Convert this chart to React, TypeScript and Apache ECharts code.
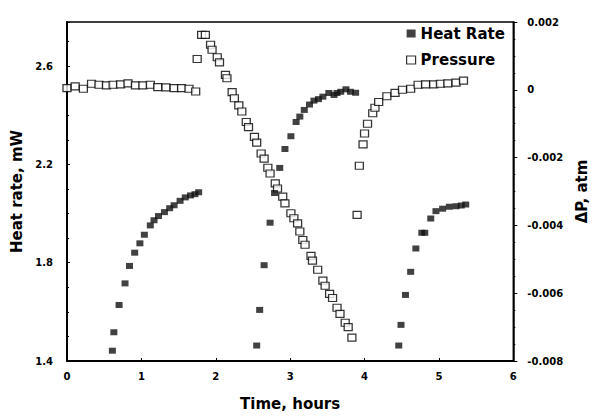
import React, { useEffect, useRef } from 'react';
import * as echarts from 'echarts';

// Heat rate (mW), three heating segments
const hrTime1 = [0.61, 0.63, 0.70, 0.78, 0.84, 0.91, 0.98, 1.04, 1.12, 1.17, 1.23, 1.31, 1.38, 1.44, 1.52, 1.59, 1.66, 1.72, 1.77];
const hrRate1 = [1.442, 1.517, 1.628, 1.716, 1.787, 1.841, 1.879, 1.914, 1.952, 1.973, 1.990, 2.006, 2.022, 2.034, 2.052, 2.066, 2.074, 2.079, 2.087];
const hrTime2 = [2.55, 2.59, 2.65, 2.73, 2.79, 2.86, 2.93, 3.01, 3.08, 3.13, 3.19, 3.26, 3.32, 3.38, 3.44, 3.52, 3.59, 3.63, 3.68, 3.75, 3.81, 3.88];
const hrRate2 = [1.463, 1.608, 1.790, 1.963, 2.084, 2.186, 2.263, 2.315, 2.373, 2.395, 2.422, 2.444, 2.460, 2.466, 2.476, 2.491, 2.483, 2.491, 2.496, 2.506, 2.496, 2.492];
const hrTime3 = [4.46, 4.49, 4.55, 4.62, 4.69, 4.77, 4.81, 4.89, 4.96, 5.05, 5.14, 5.23, 5.30, 5.36];
const hrRate3 = [1.463, 1.547, 1.669, 1.763, 1.858, 1.922, 1.922, 1.980, 2.010, 2.020, 2.028, 2.030, 2.033, 2.037];

// Pressure change (atm)
const pTimeFlat = [0, 0.11, 0.22, 0.33, 0.43, 0.53, 0.62, 0.72, 0.82, 0.92, 1.02, 1.12, 1.22, 1.33, 1.44, 1.54, 1.64, 1.73];
const pValFlat = [0.00005, 0.0001, 0.00003, 0.00018, 0.00015, 0.00013, 0.00015, 0.00016, 0.00019, 0.00013, 0.00013, 0.00015, 0.00008, 0.00007, 0.00005, 0.00005, 0.00003, -0.00005];
const pTimeDrop = [1.75, 1.81, 1.86, 1.93, 1.95, 2.02, 2.05, 2.13, 2.15, 2.22, 2.25, 2.31, 2.35, 2.41, 2.44, 2.52, 2.55, 2.61, 2.65, 2.70, 2.73, 2.80, 2.83, 2.90, 2.93, 3.01, 3.05, 3.10, 3.13, 3.17, 3.20, 3.28, 3.30, 3.37, 3.44, 3.47, 3.53, 3.57, 3.63, 3.67, 3.74, 3.78, 3.83];
const pValDrop = [0.00091, 0.00162, 0.00162, 0.00133, 0.00118, 0.00096, 0.00081, 0.00044, 0.00034, -0.00007, -0.00025, -0.00046, -0.00064, -0.00095, -0.0011, -0.00139, -0.00156, -0.00188, -0.00203, -0.0023, -0.00247, -0.00276, -0.00291, -0.00315, -0.00335, -0.00364, -0.00379, -0.00394, -0.00418, -0.00443, -0.00457, -0.0049, -0.00504, -0.00531, -0.00563, -0.00578, -0.00602, -0.00614, -0.00643, -0.00661, -0.00687, -0.007, -0.00731];
const pTimeRecover = [3.90, 3.93, 3.98, 4.00, 4.04, 4.11, 4.14, 4.19, 4.30, 4.41, 4.51, 4.62, 4.72, 4.82, 4.93, 5.02, 5.12, 5.23, 5.33];
const pValRecover = [-0.00369, -0.00224, -0.00161, -0.00129, -0.001, -0.00069, -0.00053, -0.00036, -0.00019, -0.00009, 0, 0.00003, 0.00015, 0.00016, 0.00016, 0.00018, 0.00019, 0.00021, 0.00027];

const xTicks = [0, 1, 2, 3, 4, 5, 6];
const leftTicks = [1.4, 1.8, 2.2, 2.6];
const rightTicks = [-0.008, -0.006, -0.004, -0.002, 0, 0.002];

const zip = (xs: number[], ys: number[]) => xs.map((x, i) => [x, ys[i]]);

const FONT = "'DejaVu Sans', sans-serif";

export default function App() {
  const ref = useRef<HTMLDivElement>(null);
  useEffect(() => {
    if (!ref.current) return;
    const chart = echarts.init(ref.current, undefined, { renderer: 'svg' });
    const heatData = [...zip(hrTime1, hrRate1), ...zip(hrTime2, hrRate2), ...zip(hrTime3, hrRate3)];
    const presData = [...zip(pTimeFlat, pValFlat), ...zip(pTimeDrop, pValDrop), ...zip(pTimeRecover, pValRecover)];
    const labelStyle = { color: '#000', fontFamily: FONT, fontWeight: 'bold' as const, fontSize: 10 };
    const nameStyle = { color: '#000', fontFamily: FONT, fontWeight: 'bold' as const, fontSize: 15 };
    chart.setOption({
      animation: false,
      backgroundColor: '#fff',
      grid: { left: 67, right: 79, top: 22, bottom: 53.5, show: true, borderColor: '#000', borderWidth: 1.5 },
      legend: {
        orient: 'vertical',
        left: 406,
        top: 24.5,
        padding: 0,
        itemWidth: 9,
        itemHeight: 8,
        itemGap: 8.5,
        textStyle: { ...nameStyle, lineHeight: 18 },
        data: [
          { name: 'Heat Rate', icon: 'rect', itemStyle: { color: '#111', borderWidth: 0 } },
          { name: 'Pressure', icon: 'rect', itemStyle: { color: '#fff', borderColor: '#000', borderWidth: 1.2 } },
        ],
      },
      xAxis: {
        type: 'value',
        min: xTicks[0],
        max: xTicks[xTicks.length - 1],
        interval: 1,
        name: 'Time, hours',
        nameLocation: 'middle',
        nameGap: 35,
        nameTextStyle: nameStyle,
        axisLine: { show: true, onZero: false, lineStyle: { color: '#000', width: 2 } },
        axisTick: { show: true, inside: true, length: 3, lineStyle: { color: '#000' } },
        axisLabel: { ...labelStyle, margin: 10 },
        splitLine: { show: false },
      },
      yAxis: [
        {
          type: 'value',
          position: 'left',
          min: leftTicks[0],
          max: 2.78,
          interval: 0.4,
          name: 'Heat rate, mW',
          nameLocation: 'middle',
          nameRotate: 90,
          nameGap: 40,
          nameTextStyle: nameStyle,
          axisLine: { show: true, onZero: false, lineStyle: { color: '#000', width: 2 } },
          axisTick: { show: true, inside: true, length: 3, lineStyle: { color: '#000' } },
          minorTick: { show: true, splitNumber: 4, length: 2, lineStyle: { color: '#000' } },
          axisLabel: {
            ...labelStyle,
            margin: 14,
            showMaxLabel: false,
            formatter: (v: number) => {
              const hit = leftTicks.find((t) => Math.abs(t - v) < 1e-6);
              return hit === undefined ? '' : hit.toFixed(1);
            },
          },
          splitLine: { show: false },
        },
        {
          type: 'value',
          position: 'right',
          min: rightTicks[0],
          max: rightTicks[rightTicks.length - 1],
          interval: 0.002,
          name: 'ΔP, atm',
          nameLocation: 'middle',
          nameRotate: 90,
          nameGap: 60,
          nameTextStyle: nameStyle,
          axisLine: { show: true, onZero: false, lineStyle: { color: '#000', width: 1.5 } },
          axisTick: { show: true, inside: false, length: 4, lineStyle: { color: '#000' } },
          minorTick: { show: true, splitNumber: 4, length: 2, lineStyle: { color: '#000' } },
          axisLabel: {
            ...labelStyle,
            margin: 14,
            padding: [0, 0, 6, 0],
            formatter: (v: number) => (Math.abs(v) < 1e-9 ? '0' : v.toFixed(3)),
          },
          splitLine: { show: false },
        },
      ],
      series: [
        {
          name: 'Pressure',
          type: 'scatter',
          yAxisIndex: 1,
          symbol: 'rect',
          symbolSize: [8, 7],
          itemStyle: { color: '#fff', borderColor: '#000', borderWidth: 1.2 },
          data: presData,
          z: 2,
        },
        {
          name: 'Heat Rate',
          type: 'scatter',
          yAxisIndex: 0,
          symbol: 'rect',
          symbolSize: [7, 6],
          itemStyle: { color: '#111' },
          data: heatData,
          z: 3,
        },
      ],
    });
    return () => chart.dispose();
  }, []);
  return <div ref={ref} style={{ position: 'absolute', left: 0, top: 0, width: 597, height: 416 }} />;
}
